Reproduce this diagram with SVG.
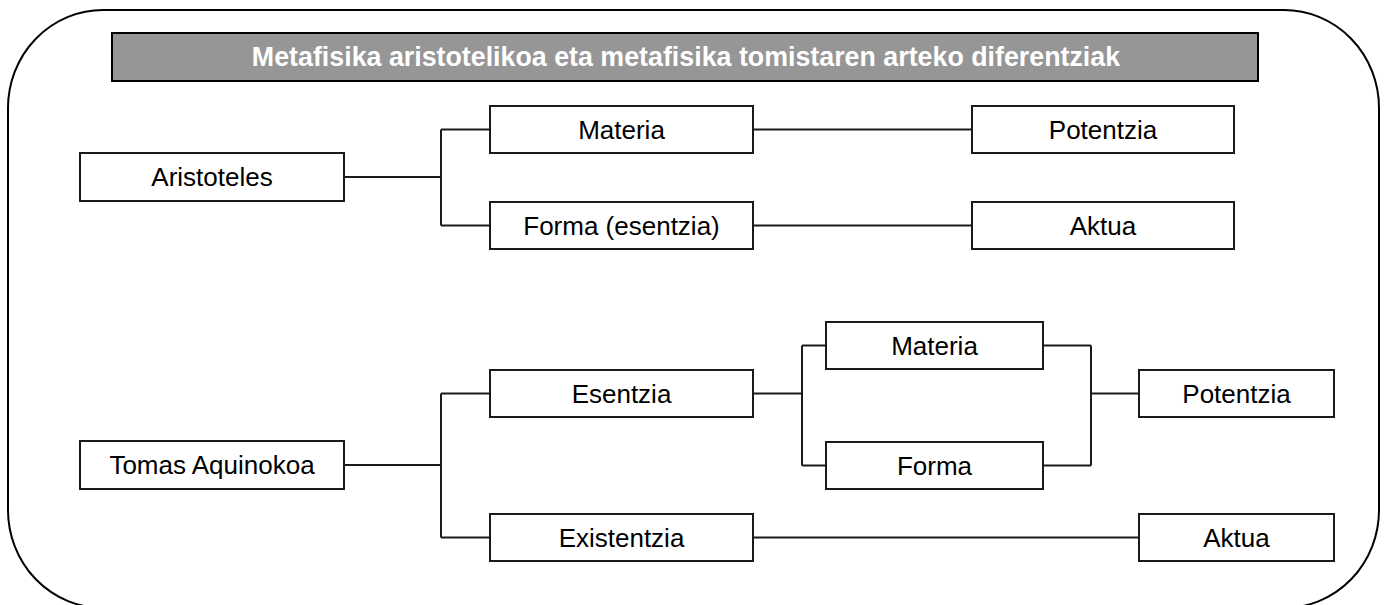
<svg xmlns="http://www.w3.org/2000/svg" width="1385" height="605" viewBox="0 0 1385 605">
<style>
.box{fill:#ffffff;stroke:#1a1a1a;stroke-width:2}
.lbl{font-family:"Liberation Sans",Arial,sans-serif;font-size:26px;fill:#000000;text-anchor:middle;dominant-baseline:central}
.ttl{font-family:"Liberation Sans",Arial,sans-serif;font-size:26.8px;font-weight:bold;fill:#ffffff;text-anchor:middle;dominant-baseline:central}
.con{fill:none;stroke:#1a1a1a;stroke-width:2}
</style>
<rect x="0" y="0" width="1385" height="605" fill="#ffffff"/>
<rect id="frame" x="8" y="10" width="1371" height="598" rx="95" ry="98" fill="#ffffff" stroke="#000000" stroke-width="2"/>
<g id="title">
<rect x="112" y="33" width="1146" height="48" fill="#969696" stroke="#000000" stroke-width="2"/>
<text class="ttl" x="686" y="57">Metafisika aristotelikoa eta metafisika tomistaren arteko diferentziak</text>
</g>
<g id="connectors">
<path class="con" d="M344 177H441M441 129.5V225.5M441 129.5H490M441 225.5H490"/>
<path class="con" d="M753 129.5H972M753 225.5H972"/>
<path class="con" d="M344 465H441M441 393.5V537.5M441 393.5H490M441 537.5H490"/>
<path class="con" d="M753 393.5H802M802 345.5V465.5M802 345.5H826M802 465.5H826"/>
<path class="con" d="M1043 345.5H1091M1043 465.5H1091M1091 345.5V465.5M1091 393.5H1139"/>
<path class="con" d="M753 537.5H1139"/>
</g>
<g id="n-aristoteles"><rect class="box" x="80" y="153" width="264" height="48"/><text class="lbl" x="212" y="177">Aristoteles</text></g>
<g id="n-materia1"><rect class="box" x="490" y="106" width="263" height="47"/><text class="lbl" x="621.5" y="129.5">Materia</text></g>
<g id="n-forma1"><rect class="box" x="490" y="202" width="263" height="47"/><text class="lbl" x="621.5" y="225.5">Forma (esentzia)</text></g>
<g id="n-potentzia1"><rect class="box" x="972" y="106" width="262" height="47"/><text class="lbl" x="1103" y="129.5">Potentzia</text></g>
<g id="n-aktua1"><rect class="box" x="972" y="202" width="262" height="47"/><text class="lbl" x="1103" y="225.5">Aktua</text></g>
<g id="n-tomas"><rect class="box" x="80" y="441" width="264" height="48"/><text class="lbl" x="212" y="465">Tomas Aquinokoa</text></g>
<g id="n-esentzia"><rect class="box" x="490" y="370" width="263" height="47"/><text class="lbl" x="621.5" y="393.5">Esentzia</text></g>
<g id="n-existentzia"><rect class="box" x="490" y="514" width="263" height="47"/><text class="lbl" x="621.5" y="537.5">Existentzia</text></g>
<g id="n-materia2"><rect class="box" x="826" y="322" width="217" height="47"/><text class="lbl" x="934.5" y="345.5">Materia</text></g>
<g id="n-forma2"><rect class="box" x="826" y="442" width="217" height="47"/><text class="lbl" x="934.5" y="465.5">Forma</text></g>
<g id="n-potentzia2"><rect class="box" x="1139" y="370" width="195" height="47"/><text class="lbl" x="1236.5" y="393.5">Potentzia</text></g>
<g id="n-aktua2"><rect class="box" x="1139" y="514" width="195" height="47"/><text class="lbl" x="1236.5" y="537.5">Aktua</text></g>
</svg>
